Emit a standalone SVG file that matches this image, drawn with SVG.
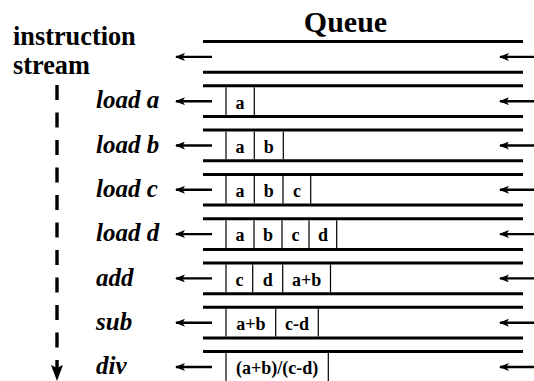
<svg xmlns="http://www.w3.org/2000/svg" width="534" height="381" viewBox="0 0 534 381">
  <style>
    text { font-family: 'Liberation Serif', 'Times New Roman', 'DejaVu Serif', serif; font-weight: bold; fill: #000; }
    .op { font-style: italic; font-size: 25px; }
    .cell { font-size: 18px; text-anchor: middle; }
    .rail { stroke: #000; stroke-width: 3; fill: none; }
    .sep { stroke: #000; stroke-width: 1.2; fill: none; }
    .arrow { stroke: #000; stroke-width: 2.4; fill: none; marker-end: url(#head); }
  </style>
  <defs>
    <marker id="head" viewBox="0 0 10 8" refX="9" refY="4" markerWidth="10" markerHeight="8" markerUnits="userSpaceOnUse" orient="auto">
      <path d="M0,0 L10,4 L0,8 L2.5,4 Z" fill="#000"/>
    </marker>
  </defs>

  <!-- headings -->
  <g id="title-queue">
    <text x="345.5" y="32" font-size="30" text-anchor="middle">Queue</text>
  </g>
  <g id="title-stream">
    <text x="13" y="45" font-size="26.3">instruction</text>
    <text x="13" y="74" font-size="26.3">stream</text>
  </g>

  <!-- instruction stream direction: dashed line ending in an arrow -->
  <g id="stream-axis">
    <line x1="57" y1="85" x2="57" y2="360" stroke="#000" stroke-width="3.4" stroke-dasharray="15 12.5"/>
    <line x1="57" y1="360" x2="57" y2="370" stroke="#000" stroke-width="3.4"/>
    <path d="M51,365 L57,368 L63,365 L57,381 Z" fill="#000"/>
  </g>

  <!-- queue rails (top and bottom of each snapshot) -->
  <g id="rails">
    <line class="rail" x1="203" y1="41.5" x2="523" y2="41.5"/>
    <line class="rail" x1="203" y1="72.2" x2="523" y2="72.2"/>
    <line class="rail" x1="203" y1="85.8" x2="523" y2="85.8"/>
    <line class="rail" x1="203" y1="116.5" x2="523" y2="116.5"/>
    <line class="rail" x1="203" y1="130.1" x2="523" y2="130.1"/>
    <line class="rail" x1="203" y1="160.8" x2="523" y2="160.8"/>
    <line class="rail" x1="203" y1="174.4" x2="523" y2="174.4"/>
    <line class="rail" x1="203" y1="205.1" x2="523" y2="205.1"/>
    <line class="rail" x1="203" y1="218.7" x2="523" y2="218.7"/>
    <line class="rail" x1="203" y1="249.4" x2="523" y2="249.4"/>
    <line class="rail" x1="203" y1="263" x2="523" y2="263"/>
    <line class="rail" x1="203" y1="293.7" x2="523" y2="293.7"/>
    <line class="rail" x1="203" y1="307.3" x2="523" y2="307.3"/>
    <line class="rail" x1="203" y1="338" x2="523" y2="338"/>
    <line class="rail" x1="203" y1="351.6" x2="523" y2="351.6"/>
  </g>

  <!-- flow arrows: items enter on the right, leave on the left -->
  <g id="connectors">
    <line class="arrow" x1="534" y1="56.9" x2="500" y2="56.9"/>
    <line class="arrow" x1="212" y1="56.9" x2="176" y2="56.9"/>
    <line class="arrow" x1="534" y1="101.2" x2="500" y2="101.2"/>
    <line class="arrow" x1="212" y1="101.2" x2="176" y2="101.2"/>
    <line class="arrow" x1="534" y1="145.5" x2="500" y2="145.5"/>
    <line class="arrow" x1="212" y1="145.5" x2="176" y2="145.5"/>
    <line class="arrow" x1="534" y1="189.8" x2="500" y2="189.8"/>
    <line class="arrow" x1="212" y1="189.8" x2="176" y2="189.8"/>
    <line class="arrow" x1="534" y1="234.1" x2="500" y2="234.1"/>
    <line class="arrow" x1="212" y1="234.1" x2="176" y2="234.1"/>
    <line class="arrow" x1="534" y1="278.4" x2="500" y2="278.4"/>
    <line class="arrow" x1="212" y1="278.4" x2="176" y2="278.4"/>
    <line class="arrow" x1="534" y1="322.7" x2="500" y2="322.7"/>
    <line class="arrow" x1="212" y1="322.7" x2="176" y2="322.7"/>
    <line class="arrow" x1="534" y1="367" x2="500" y2="367"/>
    <line class="arrow" x1="212" y1="367" x2="176" y2="367"/>
  </g>

  <!-- snapshot: load a -->
  <g id="row-load-a">
    <text class="op" x="96" y="108.3">load a</text>
    <path class="sep" d="M226,87.3 V115 M254.3,87.3 V115"/>
    <text class="cell" x="240" y="108.5">a</text>
  </g>

  <!-- snapshot: load b -->
  <g id="row-load-b">
    <text class="op" x="96" y="152.6">load b</text>
    <path class="sep" d="M226,131.6 V159.3 M254.3,131.6 V159.3 M283.3,131.6 V159.3"/>
    <text class="cell" x="240" y="152.8">a</text>
    <text class="cell" x="268.8" y="152.8">b</text>
  </g>

  <!-- snapshot: load c -->
  <g id="row-load-c">
    <text class="op" x="96" y="196.9">load c</text>
    <path class="sep" d="M226,175.9 V203.6 M254.3,175.9 V203.6 M283,175.9 V203.6 M310.7,175.9 V203.6"/>
    <text class="cell" x="240" y="197.1">a</text>
    <text class="cell" x="268.7" y="197.1">b</text>
    <text class="cell" x="296.9" y="197.1">c</text>
  </g>

  <!-- snapshot: load d -->
  <g id="row-load-d">
    <text class="op" x="96" y="241.2">load d</text>
    <path class="sep" d="M226,220.2 V247.9 M254,220.2 V247.9 M282,220.2 V247.9 M309,220.2 V247.9 M336.7,220.2 V247.9"/>
    <text class="cell" x="240" y="241.4">a</text>
    <text class="cell" x="268" y="241.4">b</text>
    <text class="cell" x="295.5" y="241.4">c</text>
    <text class="cell" x="322.9" y="241.4">d</text>
  </g>

  <!-- snapshot: add -->
  <g id="row-add">
    <text class="op" x="96" y="285.5">add</text>
    <path class="sep" d="M226,264.5 V292.2 M252.7,264.5 V292.2 M282.7,264.5 V292.2 M330.5,264.5 V292.2"/>
    <text class="cell" x="239.4" y="285.7">c</text>
    <text class="cell" x="267.7" y="285.7">d</text>
    <text class="cell" x="306.6" y="285.7">a+b</text>
  </g>

  <!-- snapshot: sub -->
  <g id="row-sub">
    <text class="op" x="96" y="329.8">sub</text>
    <path class="sep" d="M226,308.8 V336.5 M275.7,308.8 V336.5 M318.3,308.8 V336.5"/>
    <text class="cell" x="250.9" y="330">a+b</text>
    <text class="cell" x="297" y="330">c-d</text>
  </g>

  <!-- snapshot: div -->
  <g id="row-div">
    <text class="op" x="96" y="374.1">div</text>
    <path class="sep" d="M226,353.1 V381 M328.3,353.1 V381"/>
    <text class="cell" x="277.2" y="374.3">(a+b)/(c-d)</text>
  </g>
</svg>
